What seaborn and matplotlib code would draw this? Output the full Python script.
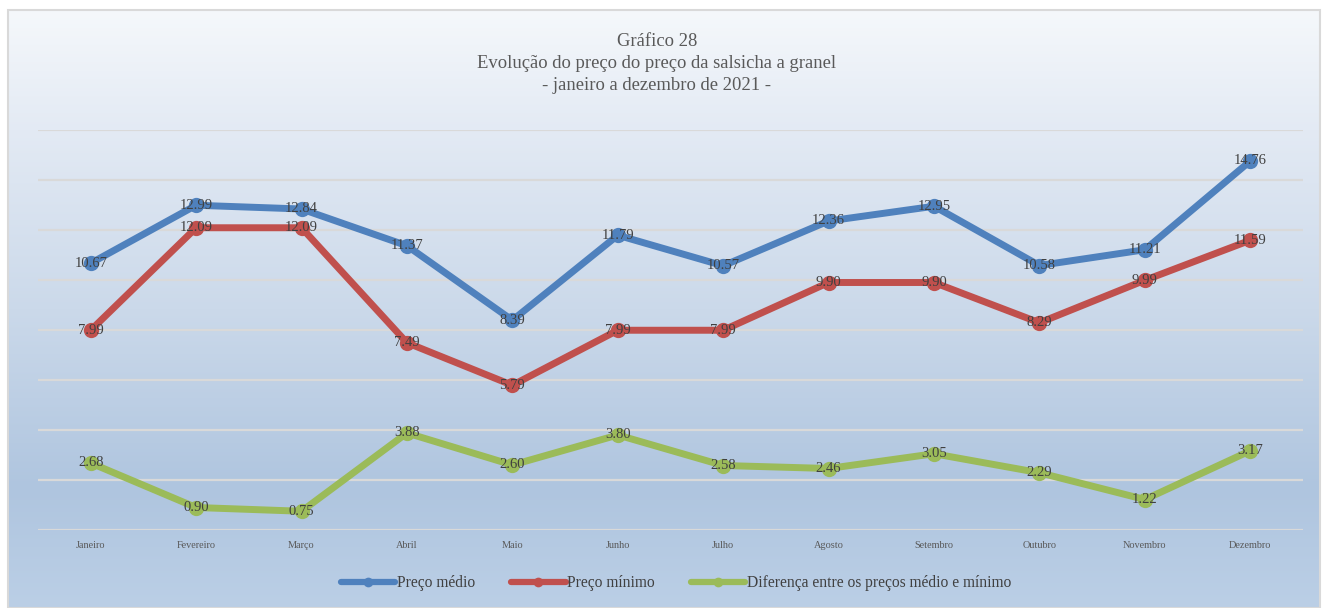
import numpy as np
import pandas as pd
import matplotlib
matplotlib.use("Agg")
import matplotlib.pyplot as plt
from matplotlib.colors import LinearSegmentedColormap
from matplotlib.patches import Rectangle
import seaborn as sns

meses = ["Janeiro", "Fevereiro", "Março", "Abril", "Maio", "Junho", "Julho",
         "Agosto", "Setembro", "Outubro", "Novembro", "Dezembro"]
preco_medio = [10.67, 12.99, 12.84, 11.37, 8.39, 11.79, 10.57, 12.36, 12.95, 10.58, 11.21, 14.76]
preco_minimo = [7.99, 12.09, 12.09, 7.49, 5.79, 7.99, 7.99, 9.90, 9.90, 8.29, 9.99, 11.59]
diferenca = [2.68, 0.90, 0.75, 3.88, 2.60, 3.80, 2.58, 2.46, 3.05, 2.29, 1.22, 3.17]

series_names = ["Preço médio", "Preço mínimo", "Diferença entre os preços médio e mínimo"]
cores = ["#4f81bd", "#c0504d", "#9bbb59"]

df = pd.DataFrame({
    "mes": meses * 3,
    "x": list(range(len(meses))) * 3,
    "valor": preco_medio + preco_minimo + diferenca,
    "serie": [series_names[0]] * 12 + [series_names[1]] * 12 + [series_names[2]] * 12,
})

sns.set_theme(style="white")
plt.rcParams["font.family"] = ["Liberation Serif", "DejaVu Serif"]

W, H = 1322, 608
fig = plt.figure(figsize=(W / 100, H / 100), dpi=100)
fig.patch.set_facecolor("white")

# gradient backdrop for the chart area
bg = fig.add_axes([8 / W, 0, (1320 - 8) / W, (H - 10) / H], zorder=-10)
grad_cmap = LinearSegmentedColormap.from_list(
    "fundo", [(0.0, "#f5f8fb"), (0.2, "#e3eaf4"), (0.5, "#cbd9ea"),
              (0.8, "#afc5df"), (1.0, "#bbcfe6")])
grad = np.linspace(0, 1, 256).reshape(-1, 1)
bg.imshow(grad, aspect="auto", cmap=grad_cmap, extent=[0, 1, 0, 1], origin="upper")
bg.set_xlim(0, 1)
bg.set_ylim(0, 1)
bg.axis("off")
fig.patches.append(Rectangle((8 / W, 0), (1320 - 8) / W, (H - 10) / H,
                             transform=fig.transFigure, fill=False,
                             edgecolor="#d9d9d9", linewidth=1.5, zorder=-5))

# plot area: x from 38 to 1303 px, y=0 at 530 px, y=16 at 130 px
ax = fig.add_axes([38 / W, (H - 530) / H, (1303 - 38) / W, 400 / H])
ax.patch.set_alpha(0)

sns.lineplot(data=df, x="x", y="valor", hue="serie", palette=cores,
             hue_order=series_names, marker="o", markersize=11,
             markeredgewidth=0, linewidth=5, ax=ax, legend=True, sort=False)

ax.set_xlim(-0.5, 11.5)
ax.set_ylim(0, 16)
ax.set_yticks(np.arange(0, 17, 2))
ax.set_yticklabels([])
ax.tick_params(axis="y", length=0)
ax.grid(axis="y", color="#d9d9d9", linewidth=1.6)
ax.set_axisbelow(True)
ax.set_xticks(range(12))
ax.set_xticklabels(meses, fontsize=7.4, color="#595959")
ax.tick_params(axis="x", length=0, pad=8)
ax.set_xlabel("")
ax.set_ylabel("")
for s in ax.spines.values():
    s.set_visible(False)

for valores in (preco_medio, preco_minimo, diferenca):
    for i, v in enumerate(valores):
        ax.text(i, v, f"{v:.2f}", ha="center", va="center",
                fontsize=10.5, color="#404040", zorder=10)

leg = ax.legend(loc="upper center", bbox_to_anchor=(0.5 - (38 + 1303 - 2 * 676) / 2 / (1303 - 38), -0.078),
                ncol=3, frameon=False, fontsize=11.2, handlelength=3.5,
                columnspacing=2.3, handletextpad=0.1)
for t in leg.get_texts():
    t.set_color("#404040")
for h in leg.legend_handles:
    h.set_markersize(7)
    h.set_linewidth(4.5)

cx = 0.5 + (657 - W / 2) / W
fig.text(cx, 1 - 42 / H, "Gráfico 28", ha="center", va="center",
         fontsize=13.4, color="#595959")
fig.text(cx, 1 - 63 / H, "Evolução do preço do preço da salsicha a granel",
         ha="center", va="center", fontsize=13.4, color="#595959")
fig.text(cx, 1 - 85 / H, "- janeiro a dezembro de 2021 -", ha="center",
         va="center", fontsize=13.4, color="#595959")

fig.savefig("out.png", dpi=100)
